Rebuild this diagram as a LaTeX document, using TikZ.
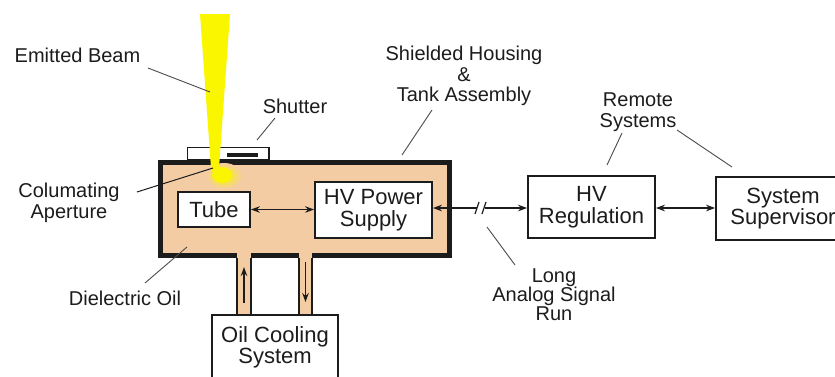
\documentclass[tikz,border=0pt]{standalone}
\usepackage{fontspec}
\setmainfont{Liberation Sans}
\usetikzlibrary{arrows.meta}
\definecolor{peach}{RGB}{244,204,164}
\definecolor{beamc}{RGB}{250,246,0}
\definecolor{ink}{RGB}{28,28,28}
\definecolor{leadc}{RGB}{75,75,75}
\tikzset{
  box/.style={draw=ink, line width=1.8pt, fill=white, align=center,
    font=\fontsize{22}{21.5}\selectfont, text=ink, inner sep=0pt},
  lbl/.style={align=center, font=\fontsize{20}{20.5}\selectfont, text=ink, inner sep=0pt},
  leader/.style={draw=leadc, line width=0.9pt},
  tipA/.tip={Stealth[length=9pt,width=6.5pt]},
  arr/.style={line width=1.4pt, draw=ink, tipA-tipA},
  arrone/.style={line width=1.4pt, draw=ink, -tipA},
}
\begin{document}
\begin{tikzpicture}[x=1pt,y=-1pt]
\useasboundingbox (0,0) rectangle (835,376);
\fill[white] (0,0) rectangle (835,376);

% housing
\draw[draw=ink, fill=peach, line width=5pt] (160.5,162.5) rectangle (449.5,255.5);
% pipes
\fill[peach] (237,250) rectangle (251,316);
\fill[peach] (299,250) rectangle (312,316);
\draw[ink, line width=1.8pt] (237,258) -- (237,316) (251,258) -- (251,316);
\draw[ink, line width=1.8pt] (299,258) -- (299,316) (312,258) -- (312,316);

% shutter
\draw[ink, fill=white, line width=1.8pt] (187.5,147.5) rectangle (269,160);
\fill[ink] (227,152.5) rectangle (258,156.5);

% beam
\fill[beamc] (200,14) -- (230,14) -- (219,168) -- (211,168) -- cycle;
\shade[inner color=beamc, outer color=peach] (224,176) ellipse [x radius=18, y radius=13];
\fill[beamc] (211,160) rectangle (219,172);
\fill[beamc] (222,175) ellipse [x radius=10, y radius=8];

% boxes
\node[box, minimum width=72pt, minimum height=35pt] (tube) at (214,209.5) {Tube};
\node[box, minimum width=117pt, minimum height=56pt] (hvps) at (373.5,210) {HV Power\\Supply};
\node[box, minimum width=127pt, minimum height=62pt] (hvreg) at (591.5,207) {HV\\Regulation};
\node[box, minimum width=134pt, minimum height=63pt] (sup) at (783,208.5) {System\\Supervisor};
\node[box, minimum width=126pt, minimum height=65pt] (cool) at (275,347.5) {Oil Cooling\\System};

% connectors
\draw[arr] (tube.east) -- (hvps.west |- tube.east);
\coordinate (brkA) at (477,208);
\coordinate (brkB) at (485,208);
\draw[line width=1.4pt, draw=ink, tipA-] (hvps.east |- brkA) -- (brkA);
\draw[arrone] (brkB) -- (hvreg.west |- brkB);
\draw[ink, line width=1.2pt] (475,214) -- (479,202) (482,214) -- (486,202);
\draw[arr] (hvreg.east |- 0,208) -- (sup.west |- 0,208);
\coordinate (pa1) at (244,303); \coordinate (pa2) at (244,267);
\draw[arrone] (pa1) -- (pa2);
\coordinate (pb1) at (305.5,262); \coordinate (pb2) at (305.5,302);
\draw[arrone] (pb1) -- (pb2);

% labels
\node[lbl] (lemit) at (77.5,55) {Emitted Beam};
\node[lbl] (lshut) at (295,106) {Shutter};
\node[lbl] (lhous) at (464,76) {Shielded Housing\\\&\\Tank Assembly};
\node[lbl] (lrem) at (638,112) {Remote\\Systems};
\node[lbl] (lcol) at (69,203) {Columating\\Aperture};
\node[lbl] (loil) at (125,298) {Dielectric Oil};
\node[lbl, font=\fontsize{20}{19}\selectfont] (llong) at (554,295) {Long\\Analog Signal\\Run};

% leaders
\coordinate (e1) at (148,68); \coordinate (e2) at (210,92);
\draw[leader] (e1) -- (e2);
\coordinate (s1) at (275,118); \coordinate (s2) at (257,140);
\draw[leader] (s1) -- (s2);
\coordinate (h1) at (432,110); \coordinate (h2) at (402,155);
\draw[leader] (h1) -- (h2);
\coordinate (r1) at (622,133); \coordinate (r2) at (607,165);
\draw[leader] (r1) -- (r2);
\coordinate (r3) at (677,130); \coordinate (r4) at (732,167);
\draw[leader] (r3) -- (r4);
\coordinate (c1) at (137,192); \coordinate (c2) at (213,168);
\draw[leader, draw=ink, line width=1pt] (c1) -- (c2);
\coordinate (d1) at (145,283); \coordinate (d2) at (187,247);
\draw[leader] (d1) -- (d2);
\coordinate (g1) at (515,265); \coordinate (g2) at (487,227);
\draw[leader] (g1) -- (g2);
\end{tikzpicture}
\end{document}
